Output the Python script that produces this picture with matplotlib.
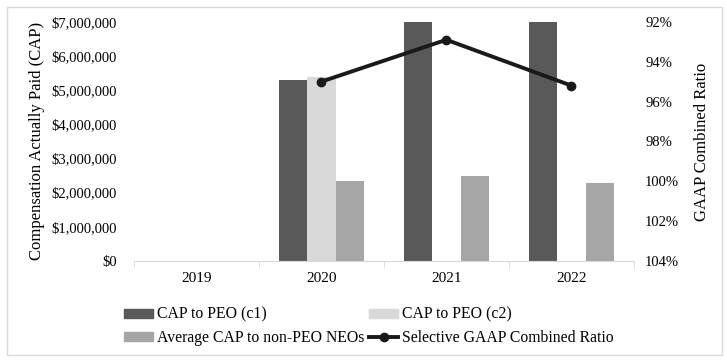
import numpy as np
import matplotlib.pyplot as plt
from matplotlib.patches import Rectangle
from matplotlib.lines import Line2D
from matplotlib.ticker import FuncFormatter

plt.rcParams['font.family'] = ['Liberation Serif', 'DejaVu Serif']

# data
years = ['2019', '2020', '2021', '2022']
cap_peo_c1 = [np.nan, 5300000, 7000000, 7000000]
cap_peo_c2 = [np.nan, 5380000, np.nan, np.nan]
cap_non_peo = [np.nan, 2330000, 2480000, 2270000]
combined_ratio = [np.nan, 95.0, 92.9, 95.2]

fig = plt.figure(figsize=(7.27, 3.64), dpi=100)
ax = fig.add_axes([0.184, 0.283, 0.688, 0.657])

x = np.arange(len(years))
w = 0.227
ax.bar(x - w, cap_peo_c1, w, color='#595959')
ax.bar(x, cap_peo_c2, w, color='#d9d9d9')
ax.bar(x + w, cap_non_peo, w, color='#a6a6a6')

ax.set_xlim(-0.5, len(years) - 0.5)
ax.set_ylim(0, 7000000)
ax.set_yticks(np.arange(0, 7000001, 1000000))
ax.yaxis.set_major_formatter(FuncFormatter(lambda v, p: '${:,.0f}'.format(v)))
ax.set_ylabel('Compensation Actually Paid (CAP)', fontsize=12, labelpad=5)
ax.set_xticks(x)
ax.set_xticklabels(years)
ax.set_xticks(np.arange(-0.5, len(years), 1), minor=True)
ax.tick_params(axis='x', which='major', length=0, pad=8, labelsize=11)
ax.tick_params(axis='x', which='minor', length=5, color='#d9d9d9')
ax.tick_params(axis='y', length=0, labelsize=10.5, pad=12)
for s in ['top', 'left', 'right']:
    ax.spines[s].set_visible(False)
ax.spines['bottom'].set_color('#d9d9d9')

ax2 = ax.twinx()
ax2.plot(x, combined_ratio, color='#1a1a1a', lw=2.8, marker='o', ms=6)
ax2.set_ylim(104, 92)
ax2.set_yticks(np.arange(92, 105, 2))
ax2.yaxis.set_major_formatter(FuncFormatter(lambda v, p: '{:.0f}%'.format(v)))
ax2.tick_params(axis='y', length=0, labelsize=10.5, pad=8)
ax2.set_ylabel('GAAP Combined Ratio', fontsize=12, labelpad=11)
for s in ['top', 'left', 'right', 'bottom']:
    ax2.spines[s].set_visible(False)

# legend fills column-wise, so order is c1, non-PEO, c2, line
handles = [
    Rectangle((0, 0), 1, 1, color='#595959'),
    Rectangle((0, 0), 1, 1, color='#a6a6a6'),
    Rectangle((0, 0), 1, 1, color='#d9d9d9'),
    Line2D([], [], color='#1a1a1a', lw=2.8, marker='o', ms=6),
]
labels = ['CAP to PEO (c1)', 'Average CAP to non-PEO NEOs',
          'CAP to PEO (c2)', 'Selective GAAP Combined Ratio']
fig.legend(handles, labels, ncol=2, loc='upper left', bbox_to_anchor=(0.17, 0.157),
           frameon=False, fontsize=11.3, handlelength=1.85, handleheight=0.55,
           handletextpad=0.25, columnspacing=0.35, labelspacing=0.45,
           borderaxespad=0, borderpad=0)

fig.patches.append(Rectangle((7 / 727, 9 / 364), 715 / 727, 348 / 364,
                             transform=fig.transFigure, fill=False,
                             edgecolor='#d9d9d9', lw=1))

fig.savefig('out.png', dpi=100)
